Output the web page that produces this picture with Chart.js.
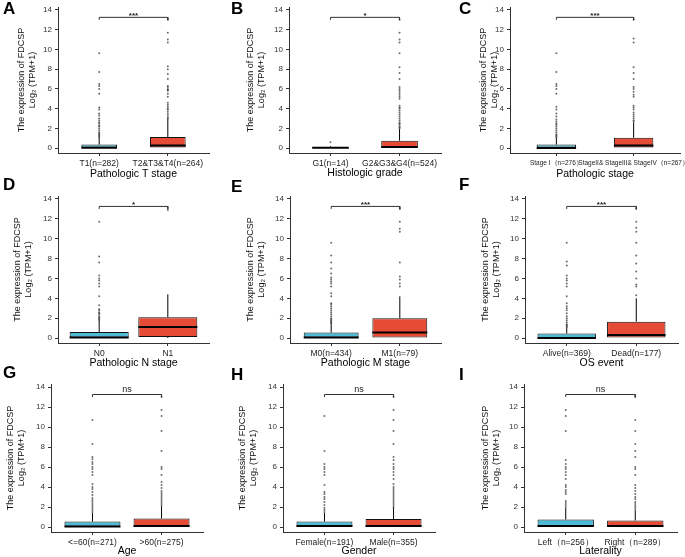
<!DOCTYPE html>
<html><head><meta charset="utf-8">
<script src="https://cdn.jsdelivr.net/npm/chart.js@4/dist/chart.umd.min.js"></script>
<style>
html,body{margin:0;padding:0;background:#fff}
body{width:685px;height:557px;position:relative;overflow:hidden;font-family:'Liberation Sans',Arial,sans-serif}
canvas{position:absolute}
.letter{position:absolute;font-weight:bold;font-size:17px;line-height:17px;color:#000}
</style></head><body>
<script>
// ---------------- DATA ----------------
const panelLetters = ['A','B','C','D','E','F','G','H','I'];
const xTitles = ['Pathologic T stage','Histologic grade','Pathologic stage','Pathologic N stage','Pathologic M stage','OS event','Age','Gender','Laterality'];
const categories = [
  ['T1(n=282)','T2&T3&T4(n=264)'],
  ['G1(n=14)','G2&G3&G4(n=524)'],
  ['Stage I（n=276）','StageII& StageIII& StageIV（n=267）'],
  ['N0','N1'],
  ['M0(n=434)','M1(n=79)'],
  ['Alive(n=369)','Dead(n=177)'],
  ['<=60(n=271)','>60(n=275)'],
  ['Female(n=191)','Male(n=355)'],
  ['Left（n=256）','Right（n=289）']
];
const yTicks = [0,2,4,6,8,10,12,14];
const significance = ['***','*','***','*','***','***','ns','ns','ns'];
const q1 =        [[0,0],[0,0],[0,0],[0,0.1],[0,0],[-0.05,0],[0,0],[0,0],[0,0]];
const medians =   [[0.02,0.25],[0.03,0.12],[0,0.25],[0.05,1.1],[0.05,0.55],[0,0.3],[0.05,0.1],[0.1,0.1],[0.1,0.1]];
const q3 =        [[0.35,1.12],[0.1,0.75],[0.35,1.05],[0.6,2.1],[0.55,2.0],[0.45,1.65],[0.55,0.85],[0.55,0.8],[0.75,0.65]];
const whiskerLo = [[0,0],[0,0],[0,0],[0,0],[0,0],[-0.05,0],[0,0],[0,0],[0,0]];
const whiskerHi = [[1.05,2.95],[0.2,1.95],[1.05,2.6],[1.75,4.4],[1.5,4.2],[1.1,4.0],[1.4,2.1],[1.4,2.0],[1.9,1.6]];
const outliersLeft = [
  [1.1,1.2,1.3,1.4,1.5,1.6,1.8,2.0,2.2,2.3,2.5,2.6,2.8,3.0,3.3,3.5,3.9,4.1,5.5,6.0,6.3,6.5,7.7,9.6],
  [0.6],
  [1.1,1.2,1.3,1.4,1.6,1.8,2.0,2.2,2.4,2.5,2.7,2.9,3.2,3.5,3.9,4.2,5.5,6.0,6.3,6.5,7.7,9.6],
  [1.8,1.9,2.0,2.1,2.2,2.4,2.5,2.6,2.8,2.9,3.3,4.2,5.2,5.5,5.8,6.0,6.3,7.6,8.2,11.7],
  [1.5,1.6,1.7,1.8,1.9,2.0,2.2,2.4,2.6,2.8,3.0,3.2,3.4,3.5,4.2,4.5,5.2,5.5,5.7,5.9,6.1,6.5,7.0,7.6,8.3,9.6],
  [1.1,1.2,1.3,1.4,1.6,1.8,2.0,2.2,2.5,2.8,3.0,3.2,3.5,4.2,5.2,5.5,5.8,6.0,6.3,7.3,7.7,9.6],
  [1.5,1.7,1.9,2.1,2.3,2.5,2.7,2.9,3.2,3.5,3.8,4.0,4.3,5.2,5.5,5.8,6.0,6.3,6.5,6.8,7.0,8.3,10.7],
  [1.5,1.7,1.9,2.2,2.5,2.8,3.0,3.3,3.5,4.2,5.2,5.5,5.8,6.0,6.3,7.6,11.1],
  [2.0,2.2,2.4,2.6,3.3,3.5,3.7,4.0,4.2,4.8,5.2,5.5,5.8,6.0,6.3,6.7,9.6,11.1,11.7]
];
const outliersRight = [
  [3.0,3.1,3.3,3.5,3.7,3.9,4.0,4.2,4.4,4.6,5.2,5.5,5.8,5.9,6.0,6.2,6.3,7.0,7.5,8.0,8.3,10.7,11.0,11.7,13.0],
  [2.0,2.1,2.2,2.4,2.5,2.6,2.8,3.0,3.2,3.4,3.6,3.8,4.0,4.1,4.3,5.0,5.2,5.4,5.6,5.8,6.0,6.2,7.0,7.6,8.2,9.6,10.7,11.0,11.7,13.0],
  [2.7,2.8,3.0,3.2,3.4,3.6,3.9,4.1,4.3,5.2,5.4,5.7,6.0,6.2,7.0,7.6,8.2,10.7,11.1,13.0],
  [12.9],
  [5.2,5.5,5.9,6.2,7.6,10.7,11.0,11.7,13.0],
  [4.3,5.2,5.4,6.0,6.7,7.5,8.3,9.6,10.7,11.1,11.7,13.0],
  [2.2,2.4,2.6,2.8,3.0,3.2,3.4,3.6,3.9,4.2,4.5,5.2,5.8,6.0,7.6,9.6,11.1,11.7,13.0],
  [2.0,2.2,2.4,2.6,2.8,3.0,3.2,3.4,3.6,3.8,4.0,4.3,4.8,5.2,5.5,5.8,6.0,6.3,6.7,7.0,8.3,9.6,10.7,11.7,13.0],
  [1.7,1.9,2.1,2.3,2.5,2.8,3.0,3.3,3.6,3.9,4.2,5.2,5.8,6.0,7.0,7.6,8.3,9.6,10.7,13.0]
];

// ---------------- LAYOUT / STYLE ----------------
const colours = ['#4DBBD5','#E64B35'];
// [canvasLeft, axisX, chartRight, chartTop, chartBottom, xTitleY, yTitleLine1X, boxFraction]
const layout = [
  [0,   58, 209,   7, 153, 174, 22, 0.52],
  [228, 289, 441,  7, 153, 173, 251, 0.53],
  [456, 510, 680,  7, 153, 174, 484, 0.51],
  [0,   58, 209, 196, 343, 363, 18, 0.86],
  [228, 290, 441, 196, 343, 363, 251, 0.8],
  [456, 525, 678, 196, 343, 363, 486, 0.84],
  [0,   51, 203, 384, 532, 551, 11, 0.81],
  [228, 283, 435, 384, 532, 551, 243, 0.81],
  [456, 524, 677, 384, 532, 551, 486, 0.81]
];
const letterPos = [[3,0],[231,0],[459,0],[3,176],[231,178],[459,176],[3,364],[231,366],[459,366]];
const FONT = "'Liberation Sans', Arial, sans-serif";
const Y_MIN = -0.5, Y_MAX = 14.3, X_MIN = -0.6, X_MAX = 1.6;
const BRACKET_Y = 13.25, BRACKET_DROP = 13.0;
const TITLE_LH = 10.5;

const sigPlugin = {
  id: 'sig',
  afterDatasetsDraw(chart, args, opts) {
    const ctx = chart.ctx, xs = chart.scales.x, ys = chart.scales.y;
    ctx.save();
    ctx.fillStyle = '#222';
    ctx.font = (opts.text === 'ns' ? '9px ' : 'bold 8px ') + FONT;
    ctx.textAlign = 'center';
    ctx.textBaseline = 'bottom';
    ctx.fillText(opts.text, xs.getPixelForValue(0.5), ys.getPixelForValue(BRACKET_Y) - (opts.text === 'ns' ? 0 : -2));
    ctx.restore();
  }
};

panelLetters.forEach((letter, p) => {
  const [cl, ax, cr, ct, cb, tY, t1X, frac] = layout[p];
  const canvasTop = ct - 8;
  const canvasBottom = tY + 7;
  const canvasWidth = (p % 3 === 2) ? 250 : 228;
  const cv = document.createElement('canvas');
  cv.width = canvasWidth; cv.height = canvasBottom - canvasTop;
  cv.style.left = cl + 'px'; cv.style.top = canvasTop + 'px';
  document.body.appendChild(cv);

  const L = document.createElement('div');
  L.className = 'letter'; L.textContent = letter;
  L.style.left = letterPos[p][0] + 'px'; L.style.top = letterPos[p][1] + 'px';
  document.body.appendChild(L);

  const h = frac / 2;
  const boxData = [0,1].map(i => ({x: i, y: [q1[p][i], q3[p][i]]}));
  const whisk = [];
  [0,1].forEach(i => {
    whisk.push({x:i, y:q3[p][i]}, {x:i, y:whiskerHi[p][i]}, {x:i, y:null});
    whisk.push({x:i, y:whiskerLo[p][i]}, {x:i, y:q1[p][i]}, {x:i, y:null});
  });
  const med = [];
  [0,1].forEach(i => { med.push({x:i-h, y:medians[p][i]}, {x:i+h, y:medians[p][i]}, {x:i, y:null}); });
  const pts = outliersLeft[p].map(v => ({x:0, y:v})).concat(outliersRight[p].map(v => ({x:1, y:v})));
  const bracket = [{x:0,y:BRACKET_DROP},{x:0,y:BRACKET_Y},{x:1,y:BRACKET_Y},{x:1,y:BRACKET_DROP}];

  const tickFont = p === 2 ? {family: FONT, size: 6.5} : {family: FONT, size: 8.5};

  new Chart(cv, {
    type: 'bar',
    data: {
      datasets: [
        {type:'line', data: whisk, borderColor:'#000', borderWidth:1, pointRadius:0, spanGaps:false, order:5},
        {type:'bar', data: boxData, backgroundColor: colours, borderColor:'#111', borderWidth:1, borderSkipped:false,
          categoryPercentage:1, barPercentage: frac, grouped:false, order:4},
        {type:'line', data: med, borderColor:'#000', borderWidth:2, pointRadius:0, spanGaps:false, order:3},
        {type:'scatter', data: pts, backgroundColor:'rgba(60,60,60,0.75)', borderWidth:0, pointRadius:1, order:2},
        {type:'line', data: bracket, borderColor:'#333', borderWidth:1, pointRadius:0, order:1}
      ]
    },
    options: {
      responsive:false, animation:false, devicePixelRatio:1,
      layout: {padding: {top: ct - canvasTop, right: canvasWidth - (cr - cl), left:0, bottom:0}},
      plugins: {legend:{display:false}, tooltip:{enabled:false}, sig:{text: significance[p]}},
      scales: {
        x: {
          type:'linear', min:X_MIN, max:X_MAX, offset:false,
          grid:{display:true, drawOnChartArea:false, drawTicks:true, tickLength:3, color:'#333', offset:false},
          border:{display:true, color:'#333', width:1},
          afterBuildTicks: s => { s.ticks = [{value:0},{value:1}]; },
          afterFit: s => { s.height = canvasBottom - cb; },
          ticks:{autoSkip:false, maxRotation:0, minRotation:0, padding:3, color:'#222', font:tickFont,
            callback:(v, i) => categories[p][i]},
          title:{display:true, text:xTitles[p], color:'#000', font:{family:FONT, size:10.5}, padding:{top:0,bottom:0.5}}
        },
        y: {
          type:'linear', min:Y_MIN, max:Y_MAX,
          grid:{display:true, drawOnChartArea:false, drawTicks:true, tickLength:3, color:'#333'},
          border:{display:true, color:'#333', width:1},
          afterBuildTicks: s => { s.ticks = yTicks.map(v => ({value:v})); },
          afterFit: s => { s.width = ax - cl; },
          ticks:{padding:3, color:'#333', font:{family:FONT, size:8}},
          title:{display:true, text:['The expression of FDCSP','Log₂ (TPM+1)'], color:'#111',
            font:{family:FONT, size:9, lineHeight: TITLE_LH + 'px'}, padding:{top: t1X - TITLE_LH/2 - cl, bottom:0}}
        }
      }
    },
    plugins:[sigPlugin]
  });
});
</script>
</body></html>
